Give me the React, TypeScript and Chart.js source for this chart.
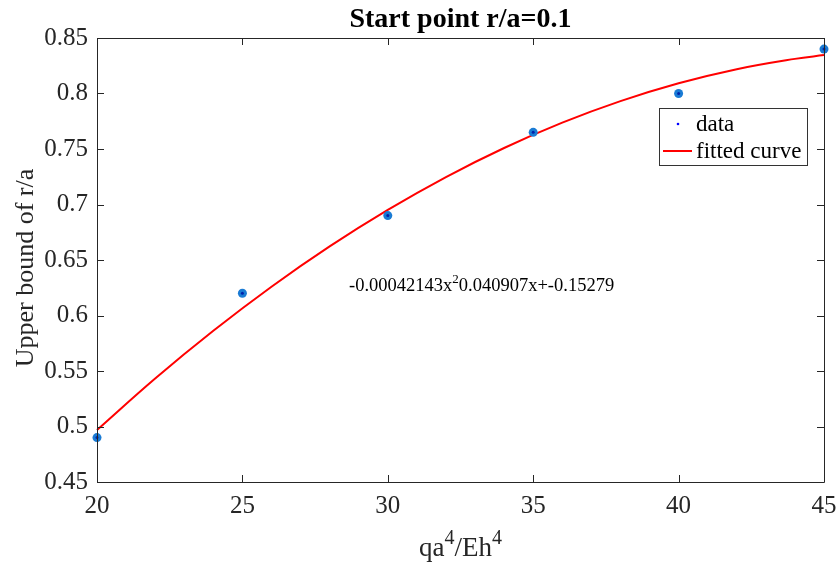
import React, { useEffect, useRef } from "react";
import { Chart, registerables } from "chart.js";

Chart.register(...registerables);

const dataX = [20, 25, 30, 35, 40, 45];
const dataY = [0.49, 0.62, 0.69, 0.765, 0.8, 0.84];

const curveX = [20, 22, 24, 26, 28, 30, 32, 34, 36, 38, 40, 42, 44, 45];
const curveY = [0.4968, 0.5432, 0.5862, 0.6259, 0.6622, 0.6951, 0.7247, 0.7509, 0.7737, 0.7931, 0.8092, 0.8219, 0.8312, 0.8346];

const xTicks = [20, 25, 30, 35, 40, 45];
const yTicks = [0.45, 0.5, 0.55, 0.6, 0.65, 0.7, 0.75, 0.8, 0.85];
const yTickLabels = ["0.45", "0.5", "0.55", "0.6", "0.65", "0.7", "0.75", "0.8", "0.85"];

const titleText = "Start point r/a=0.1";
const xLabelParts = [
  { t: "qa", sup: false },
  { t: "4", sup: true },
  { t: "/Eh", sup: false },
  { t: "4", sup: true },
];
const yLabel = "Upper bound of r/a";
const equationParts = [
  { t: "-0.00042143x", sup: false },
  { t: "2", sup: true },
  { t: "0.040907x+-0.15279", sup: false },
];
const legendLabels = ["data", "fitted curve"];

const SERIF = "'Liberation Serif', 'Times New Roman', serif";
const AXIS = "#262626";

function drawParts(ctx: any, parts: any[], x: number, y: number, size: number, supSize: number, rise: number) {
  let cx = x;
  parts.forEach((p) => {
    ctx.font = `${p.sup ? supSize : size}px ${SERIF}`;
    ctx.fillText(p.t, cx, p.sup ? y - rise : y);
    cx += ctx.measureText(p.t).width;
  });
  return cx - x;
}

function measureParts(ctx: any, parts: any[], size: number, supSize: number) {
  let w = 0;
  parts.forEach((p) => {
    ctx.font = `${p.sup ? supSize : size}px ${SERIF}`;
    w += ctx.measureText(p.t).width;
  });
  return w;
}

const decorPlugin = {
  id: "decor",
  afterDraw(chart: any) {
    const ctx = chart.ctx;
    const { left, right, top, bottom } = chart.chartArea;
    const xs = chart.scales.x;
    const ys = chart.scales.y;
    ctx.save();
    // box
    ctx.strokeStyle = AXIS;
    ctx.lineWidth = 1;
    ctx.beginPath();
    ctx.rect(Math.round(left) + 0.5, Math.round(top) + 0.5, Math.round(right - left), Math.round(bottom - top));
    ctx.stroke();
    // inward ticks
    const tl = 7;
    ctx.beginPath();
    xTicks.forEach((v) => {
      const px = Math.round(xs.getPixelForValue(v)) + 0.5;
      ctx.moveTo(px, bottom);
      ctx.lineTo(px, bottom - tl);
      ctx.moveTo(px, top);
      ctx.lineTo(px, top + tl);
    });
    yTicks.forEach((v) => {
      const py = Math.round(ys.getPixelForValue(v)) + 0.5;
      ctx.moveTo(left, py);
      ctx.lineTo(left + tl, py);
      ctx.moveTo(right, py);
      ctx.lineTo(right - tl, py);
    });
    ctx.stroke();

    // title
    ctx.fillStyle = "#000";
    ctx.font = `bold 28px ${SERIF}`;
    ctx.textAlign = "center";
    ctx.textBaseline = "alphabetic";
    ctx.fillText(titleText, (left + right) / 2, 27);

    // x label
    ctx.fillStyle = AXIS;
    ctx.textAlign = "left";
    const xw = measureParts(ctx, xLabelParts, 27, 20);
    drawParts(ctx, xLabelParts, (left + right) / 2 - xw / 2, 556, 27, 20, 12);

    // y label
    ctx.save();
    ctx.translate(33, (top + bottom) / 2 + 8);
    ctx.rotate(-Math.PI / 2);
    ctx.textAlign = "center";
    ctx.font = `26px ${SERIF}`;
    ctx.fillText(yLabel, 0, 0);
    ctx.restore();

    // equation
    ctx.fillStyle = "#000";
    ctx.textAlign = "left";
    drawParts(ctx, equationParts, 349, 291, 18.5, 13, 8);

    // legend
    const lx = 659, ly = 108, lw = 148, lh = 57;
    ctx.fillStyle = "#fff";
    ctx.fillRect(lx, ly, lw, lh);
    ctx.strokeStyle = "#333";
    ctx.lineWidth = 1;
    ctx.strokeRect(lx + 0.5, ly + 0.5, lw, lh);
    ctx.fillStyle = "#0000ff";
    ctx.beginPath();
    ctx.arc(678, 124, 1.3, 0, Math.PI * 2);
    ctx.fill();
    ctx.strokeStyle = "#ff0000";
    ctx.lineWidth = 2;
    ctx.beginPath();
    ctx.moveTo(663, 151);
    ctx.lineTo(692, 151);
    ctx.stroke();
    ctx.fillStyle = "#000";
    ctx.font = `23px ${SERIF}`;
    ctx.fillText(legendLabels[0], 696, 131);
    ctx.fillText(legendLabels[1], 696, 158);
    ctx.restore();
  },
};

export default function App() {
  const ref = useRef<HTMLCanvasElement>(null);
  useEffect(() => {
    if (!ref.current) return;
    const chart = new Chart(ref.current, {
      type: "scatter",
      data: {
        datasets: [
          {
            label: "fitted curve",
            data: curveX.map((x, i) => ({ x, y: curveY[i] })),
            showLine: true,
            borderColor: "#ff0000",
            borderWidth: 2,
            pointRadius: 0,
            tension: 0.4,
            order: 3,
            clip: false,
          },
          {
            label: "data",
            data: dataX.map((x, i) => ({ x, y: dataY[i] })),
            pointRadius: 4.5,
            pointBackgroundColor: "#1a7bd4",
            pointBorderWidth: 0,
            order: 2,
            clip: false,
          },
          {
            label: "data-center",
            data: dataX.map((x, i) => ({ x, y: dataY[i] })),
            pointRadius: 1.5,
            pointBackgroundColor: "#0022aa",
            pointBorderWidth: 0,
            order: 1,
            clip: false,
          },
        ],
      },
      plugins: [decorPlugin],
      options: {
        animation: false,
        responsive: false,
        maintainAspectRatio: false,
        layout: { padding: { left: 0, right: 14, top: 38, bottom: 0 } },
        plugins: { legend: { display: false }, tooltip: { enabled: false } },
        scales: {
          x: {
            type: "linear",
            min: 20,
            max: 45,
            afterBuildTicks: (s: any) => {
              s.ticks = xTicks.map((v) => ({ value: v }));
            },
            afterFit: (s: any) => {
              s.height = 80;
              s.paddingLeft = 0;
              s.paddingRight = 0;
            },
            grid: { display: false, drawTicks: false },
            border: { display: false },
            ticks: {
              color: AXIS,
              font: { family: SERIF, size: 25 },
              padding: 9,
              maxRotation: 0,
            },
          },
          y: {
            type: "linear",
            min: 0.45,
            max: 0.85,
            afterBuildTicks: (s: any) => {
              s.ticks = yTicks.map((v) => ({ value: v }));
            },
            afterFit: (s: any) => {
              s.width = 97;
              s.paddingTop = 0;
              s.paddingBottom = 0;
            },
            grid: { display: false, drawTicks: false },
            border: { display: false },
            ticks: {
              color: AXIS,
              font: { family: SERIF, size: 25 },
              padding: 9,
              callback: (v: any) => {
                const i = yTicks.findIndex((t) => Math.abs(t - Number(v)) < 1e-6);
                return i >= 0 ? yTickLabels[i] : "";
              },
            },
          },
        },
      },
    });
    return () => chart.destroy();
  }, []);
  return (
    <div style={{ position: "fixed", left: 0, top: 0, width: 838, height: 562, background: "#fff" }}>
      <canvas ref={ref} width={838} height={562} style={{ width: 838, height: 562 }} />
    </div>
  );
}
